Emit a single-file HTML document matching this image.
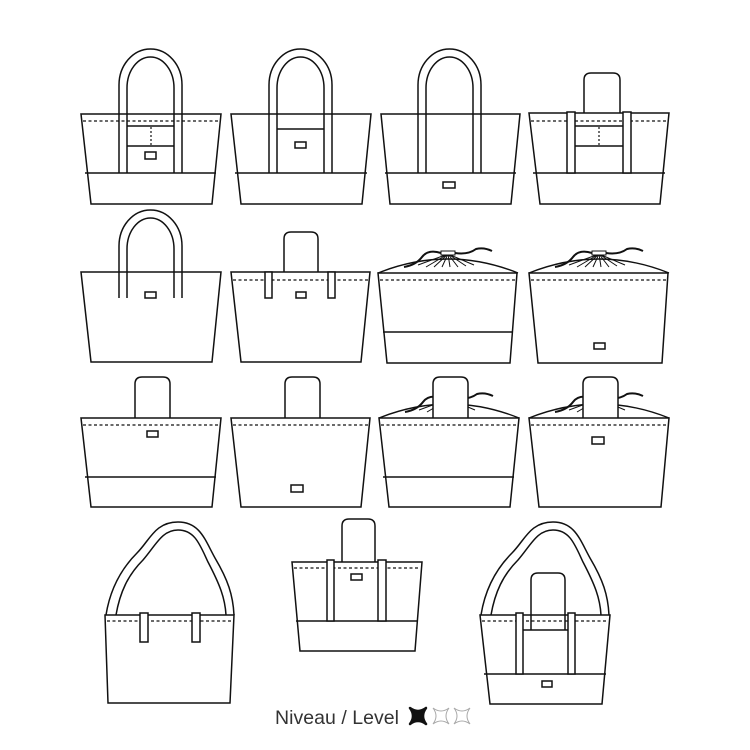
<!DOCTYPE html>
<html><head><style>
html,body{margin:0;padding:0;background:#fff;}
svg{display:block}
</style></head><body>
<svg width="750" height="750" viewBox="0 0 750 750" xmlns="http://www.w3.org/2000/svg">
<defs>
<g id="draw">
  <path d="M0,0 Q70,-28 140,0" fill="#fff" stroke="#111" stroke-width="1.4"/>
  <g stroke="#111" stroke-width="1" fill="none">
    <path d="M70,-19 L40,-8 M70,-19 L48,-6 M70,-19 L56,-6 M70,-19 L64,-6 M70,-19 L72,-6 M70,-19 L80,-6 M70,-19 L88,-7 M70,-19 L96,-8"/>
  </g>
  <rect x="63" y="-22" width="14" height="4" fill="#fff" stroke="#111" stroke-width="1"/>
  <path d="M63,-20 Q50,-24 44,-16 Q38,-8 26,-6" fill="none" stroke="#111" stroke-width="2"/>
  <path d="M77,-20 Q90,-18 98,-24 Q106,-26 114,-22" fill="none" stroke="#111" stroke-width="2"/>
</g>
</defs>
<g fill="none" stroke="#111" stroke-width="1.5">
<!-- Row 1 bag1 -->
<path d="M119,173 V85 A31.5,36 0 0 1 182,85 V173" fill="#fff"/>
<path d="M127,173 V88 A23.5,31 0 0 1 174,88 V173"/>
<path d="M81,114 H221 L212,204 H91 Z"/>
<line x1="85" y1="173" x2="216" y2="173"/>
<line x1="83" y1="121" x2="219" y2="121" stroke-dasharray="3,2.5" stroke-width="1.2"/>
<path d="M127,126 H174 M127,146 H174"/>
<line x1="151" y1="127" x2="151" y2="145" stroke-dasharray="2,2" stroke-width="1.2"/>
<rect x="145" y="152" width="11" height="7"/>
<!-- bag2 -->
<path d="M269,173 V85 A31.5,36 0 0 1 332,85 V173"/>
<path d="M277,173 V88 A23.5,31 0 0 1 324,88 V173"/>
<path d="M231,114 H371 L362,204 H241 Z"/>
<line x1="235" y1="173" x2="367" y2="173"/>
<path d="M277,129 H324"/>
<rect x="295" y="142" width="11" height="6"/>
<!-- bag3 -->
<path d="M418,173 V85 A31.5,36 0 0 1 481,85 V173"/>
<path d="M426,173 V88 A23.5,31 0 0 1 473,88 V173"/>
<path d="M381,114 H520 L511,204 H390 Z"/>
<line x1="385" y1="173" x2="516" y2="173"/>
<rect x="443" y="182" width="12" height="6"/>
<!-- bag4 -->
<path d="M584,113 V80 Q584,73 591,73 H613 Q620,73 620,80 V113"/>
<path d="M529,113 H669 L660,204 H540 Z"/>
<line x1="533" y1="173" x2="665" y2="173"/>
<line x1="531" y1="121" x2="667" y2="121" stroke-dasharray="3,2.5" stroke-width="1.2"/>
<rect x="567" y="112" width="8" height="61" fill="#fff"/>
<rect x="623" y="112" width="8" height="61" fill="#fff"/>
<path d="M575,126 H623 M575,146 H623"/>
<line x1="599" y1="127" x2="599" y2="145" stroke-dasharray="2,2" stroke-width="1.2"/>

<!-- Row 2 bag5 -->
<path d="M119,298 V246 A31.5,36 0 0 1 182,246 V298"/>
<path d="M127,298 V249 A23.5,31 0 0 1 174,249 V298"/>
<path d="M81,272 H221 L212,362 H91 Z"/>
<rect x="145" y="292" width="11" height="6"/>
<!-- bag6 -->
<path d="M284,272 V239 Q284,232 291,232 H311 Q318,232 318,239 V272"/>
<path d="M231,272 H370 L361,362 H241 Z"/>
<line x1="233" y1="280" x2="368" y2="280" stroke-dasharray="3,2.5" stroke-width="1.2"/>
<rect x="265" y="272" width="7" height="26" fill="#fff"/>
<rect x="328" y="272" width="7" height="26" fill="#fff"/>
<rect x="296" y="292" width="10" height="6"/>
<!-- bag7 -->
<use href="#draw" x="378" y="273"/>
<path d="M378,273 H517 L510,363 H387 Z"/>
<line x1="383" y1="332" x2="513" y2="332"/>
<line x1="380" y1="280" x2="515" y2="280" stroke-dasharray="3,2.5" stroke-width="1.2"/>
<!-- bag8 -->
<use href="#draw" x="529" y="273"/>
<path d="M529,273 H668 L662,363 H538 Z"/>
<line x1="531" y1="280" x2="666" y2="280" stroke-dasharray="3,2.5" stroke-width="1.2"/>
<rect x="594" y="343" width="11" height="6"/>

<!-- Row 3 bag9 -->
<path d="M135,418 V384 Q135,377 142,377 H163 Q170,377 170,384 V418"/>
<path d="M81,418 H221 L212,507 H91 Z"/>
<line x1="85" y1="477" x2="216" y2="477"/>
<line x1="83" y1="425" x2="219" y2="425" stroke-dasharray="3,2.5" stroke-width="1.2"/>
<rect x="147" y="431" width="11" height="6"/>
<!-- bag10 -->
<path d="M285,418 V384 Q285,377 292,377 H313 Q320,377 320,384 V418"/>
<path d="M231,418 H370 L361,507 H241 Z"/>
<line x1="233" y1="425" x2="368" y2="425" stroke-dasharray="3,2.5" stroke-width="1.2"/>
<rect x="291" y="485" width="12" height="7"/>
<!-- bag11 -->
<use href="#draw" x="379" y="418"/>
<path d="M433,418 V384 Q433,377 440,377 H461 Q468,377 468,384 V418" fill="#fff"/>
<path d="M379,418 H519 L510,507 H389 Z"/>
<line x1="383" y1="477" x2="514" y2="477"/>
<line x1="381" y1="425" x2="517" y2="425" stroke-dasharray="3,2.5" stroke-width="1.2"/>
<!-- bag12 -->
<use href="#draw" x="529" y="418"/>
<path d="M583,418 V384 Q583,377 590,377 H611 Q618,377 618,384 V418" fill="#fff"/>
<path d="M529,418 H669 L661,507 H539 Z"/>
<line x1="531" y1="425" x2="667" y2="425" stroke-dasharray="3,2.5" stroke-width="1.2"/>
<rect x="592" y="437" width="12" height="7"/>

<!-- Row 4 bag13 -->
<path d="M106,615 C110,590 120,570 137,553 C150,540 155,522 178,522 C200,522 205,540 215,558 C228,580 233,595 234,615"/>
<path d="M116,615 C120,592 128,575 143,560 C156,545 162,530 178,530 C195,530 200,545 208,562 C220,585 225,598 226,615"/>
<path d="M105,615 H234 L230,703 H108 Z"/>
<line x1="107" y1="621" x2="232" y2="621" stroke-dasharray="3,2.5" stroke-width="1.2"/>
<rect x="140" y="613" width="8" height="29" fill="#fff"/>
<rect x="192" y="613" width="8" height="29" fill="#fff"/>
<!-- bag14 -->
<path d="M342,562 V526 Q342,519 349,519 H368 Q375,519 375,526 V562"/>
<path d="M292,562 H422 L415,651 H300 Z"/>
<line x1="296" y1="621" x2="418" y2="621"/>
<line x1="294" y1="568" x2="420" y2="568" stroke-dasharray="3,2.5" stroke-width="1.2"/>
<rect x="327" y="560" width="7" height="61" fill="#fff"/>
<rect x="378" y="560" width="8" height="61" fill="#fff"/>
<rect x="351" y="574" width="11" height="6"/>
<!-- bag15 -->
<path d="M481,615 C485,590 495,570 512,553 C525,540 530,522 553,522 C575,522 580,540 590,558 C603,580 608,595 609,615"/>
<path d="M491,615 C495,592 503,575 518,560 C531,545 537,530 553,530 C570,530 575,545 583,562 C595,585 600,598 601,615"/>
<path d="M531,630 V580 Q531,573 538,573 H558 Q565,573 565,580 V630"/>
<path d="M480,615 H610 L602,704 H490 Z"/>
<line x1="484" y1="674" x2="606" y2="674"/>
<line x1="482" y1="621" x2="608" y2="621" stroke-dasharray="3,2.5" stroke-width="1.2"/>
<rect x="516" y="613" width="7" height="61" fill="#fff"/>
<rect x="568" y="613" width="7" height="61" fill="#fff"/>
<path d="M523,630 H568"/>
<rect x="542" y="681" width="10" height="6"/>
</g>

<text x="275" y="724" font-family="Liberation Sans, sans-serif" font-size="19.5" fill="#333" textLength="124">Niveau / Level</text>
<g transform="translate(418,716)">
<path d="M-8,-8 Q0,-2 8,-8 Q2,0 8,8 Q0,2 -8,8 Q-2,0 -8,-8 Z" fill="#111" stroke="#111" stroke-width="2.5" stroke-linejoin="round"/>
</g>
<g transform="translate(441,716)">
<path d="M-8,-8 Q0,-2 8,-8 Q2,0 8,8 Q0,2 -8,8 Q-2,0 -8,-8 Z" fill="none" stroke="#aaa" stroke-width="1"/>
</g>
<g transform="translate(462,716)">
<path d="M-8,-8 Q0,-2 8,-8 Q2,0 8,8 Q0,2 -8,8 Q-2,0 -8,-8 Z" fill="none" stroke="#aaa" stroke-width="1"/>
</g>
</svg>
</body></html>
